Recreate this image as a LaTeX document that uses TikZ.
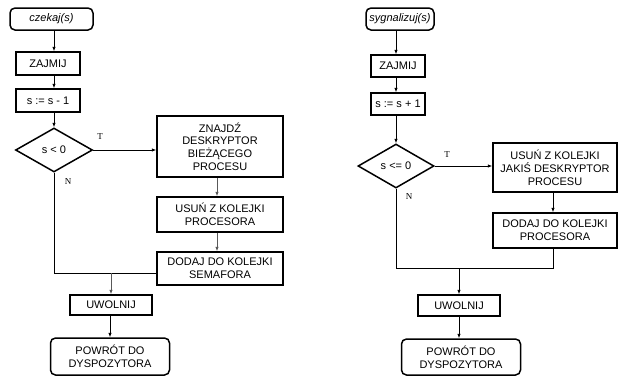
\documentclass[tikz,border=0pt]{standalone}
\usepackage{fontspec}
\setmainfont{Liberation Sans}
\newfontfamily\lblfont{Liberation Serif}
\usetikzlibrary{shapes.geometric,arrows.meta}
\begin{document}
\begin{tikzpicture}[x=1pt,y=-1pt,
  box/.style={draw, line width=1.5pt, inner sep=0pt, align=center,
    font=\fontsize{11}{12.8}\selectfont},
  rbox/.style={box, rounded corners=5pt},
  dia/.style={draw, diamond, line width=1.5pt, inner sep=0pt, aspect=1.75,
    font=\fontsize{11}{12.8}\selectfont},
  conn/.style={line width=0.7pt, -{Latex[length=4.5pt,width=3.5pt]}},
  gconn/.style={conn, black!65},
  plain/.style={line width=0.7pt},
  lbl/.style={font=\lblfont\fontsize{9}{9}\selectfont, inner sep=0pt}]
\useasboundingbox (0,0) rectangle (619,376);
% ---------- left chart ----------
\node[rbox, minimum width=83pt, minimum height=22pt] (start1) at (51.5,19) {\itshape czekaj(s)};
\node[box, minimum width=64pt, minimum height=23pt] (zaj1) at (48,63.5) {ZAJMIJ};
\node[box, minimum width=64pt, minimum height=23pt] (dec1) at (48,100.5) {s := s - 1};
\node[dia, minimum width=77pt, minimum height=44pt] (dia1) at (54,150) {s < 0};
\node[box, minimum width=126pt, minimum height=61pt] (znajdz) at (220,146.5) {ZNAJDŹ\\DESKRYPTOR\\BIEŻĄCEGO\\PROCESU};
\node[box, minimum width=126pt, minimum height=35pt] (usun1) at (220,214.5) {USUŃ Z KOLEJKI\\PROCESORA};
\node[box, minimum width=126pt, minimum height=33pt] (dodaj1) at (220,268.5) {DODAJ DO KOLEJKI\\SEMAFORA};
\node[box, minimum width=82pt, minimum height=20pt] (uwol1) at (111,305) {UWOLNIJ};
\node[rbox, minimum width=119pt, minimum height=37pt] (powrot1) at (110,356.5) {POWRÓT DO\\DYSPOZYTORA};
\coordinate (j1) at (54,273);
\draw[conn] (start1.south -| dia1.north) -- (zaj1.north -| dia1.north);
\draw[conn] (zaj1.south -| dia1.north) -- (dec1.north -| dia1.north);
\draw[conn] (dec1.south -| dia1.north) -- (dia1.north);
\draw[conn] (dia1.east) -- (dia1.east -| znajdz.west);
\draw[gconn] ([xshift=-3pt]znajdz.south) -- ([xshift=-3pt]usun1.north);
\draw[gconn] ([xshift=-3pt]usun1.south) -- ([xshift=-3pt]dodaj1.north);
\draw[plain] (dia1.south) -- (j1) -- (j1 -| dodaj1.west);
\draw[gconn] (j1 -| uwol1.north) -- (uwol1.north);
\draw[conn] (uwol1.south -| powrot1.north) -- (powrot1.north);
\node[lbl] (t1) at (100,137) {T};
\node[lbl] (n1) at (68,182) {N};
% ---------- right chart ----------
\node[rbox, minimum width=68pt, minimum height=22pt] (start2) at (400,19) {\itshape sygnalizuj(s)};
\node[box, minimum width=54pt, minimum height=22pt] (zaj2) at (398,66) {ZAJMIJ};
\node[box, minimum width=54pt, minimum height=22pt] (inc2) at (398,104) {s := s + 1};
\node[dia, minimum width=76pt, minimum height=44pt] (dia2) at (396,166) {s <= 0};
\node[box, minimum width=124pt, minimum height=49pt] (usun2) at (555,167.5) {USUŃ Z KOLEJKI\\JAKIŚ DESKRYPTOR\\PROCESU};
\node[box, minimum width=124pt, minimum height=35pt] (dodaj2) at (555,230.5) {DODAJ DO KOLEJKI\\PROCESORA};
\node[box, minimum width=82pt, minimum height=21pt] (uwol2) at (459,305.5) {UWOLNIJ};
\node[rbox, minimum width=119pt, minimum height=36pt] (powrot2) at (461,357) {POWRÓT DO\\DYSPOZYTORA};
\coordinate (j2) at (396,268);
\draw[conn] (start2.south -| dia2.north) -- (zaj2.north -| dia2.north);
\draw[conn] (zaj2.south -| dia2.north) -- (inc2.north -| dia2.north);
\draw[conn] (inc2.south -| dia2.north) -- (dia2.north);
\draw[conn] (dia2.east) -- (dia2.east -| usun2.west);
\draw[conn] ([xshift=-2pt]usun2.south) -- ([xshift=-2pt]dodaj2.north);
\draw[plain] ([xshift=-2pt]dodaj2.south) -- ([xshift=-2pt]dodaj2.south |- j2) -- (j2) -- (dia2.south);
\draw[conn] (j2 -| uwol2.north) -- (uwol2.north);
\draw[conn] (uwol2.south) -- (uwol2.south |- powrot2.north);
\node[lbl] (t2) at (447,155) {T};
\node[lbl] (n2) at (409,197) {N};
\end{tikzpicture}
\end{document}
